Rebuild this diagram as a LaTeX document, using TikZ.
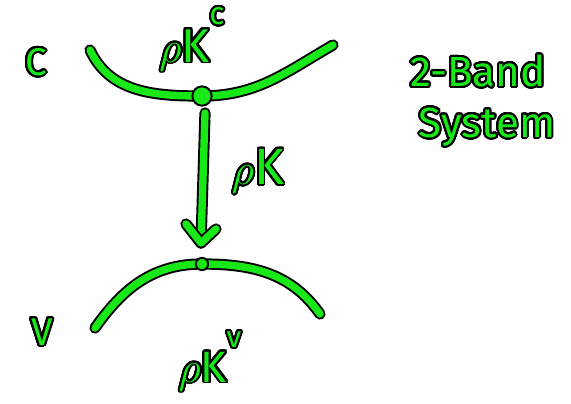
\documentclass[tikz,border=0pt]{standalone}
\usepackage{fontspec}
\setmainfont{Fira Sans}
\usepackage{contour}
\contourlength{1.1pt}
\contournumber{32}
\definecolor{pen}{RGB}{24,232,24}
\newcommand{\ink}[1]{\contour{black}{\textcolor{pen}{#1}}}

\tikzset{
  stroke/.style={line width=1.1pt, draw=black, double=pen, double distance=4.2pt,
    line cap=round, line join=round},
  blob/.style={circle, fill=pen, draw=black, line width=1.1pt, inner sep=0pt},
  lbl/.style={inner sep=0pt, font=\bfseries},
}

\begin{document}
\begin{tikzpicture}[x=0.02cm, y=-0.02cm]
	\useasboundingbox (0,0) rectangle (571,403);
	% band edges:
	\coordinate (cmin) at (202,96);
	\coordinate (vmax) at (202,264);
	\coordinate (cl) at (90,50);
	\coordinate (cr) at (333,45);
	\coordinate (vl) at (95,328);
	\coordinate (vr) at (320,314);
	\draw[stroke] (cl) to[out=-65, in=180] (cmin) to[out=0, in=-150] (cr);
	\draw[stroke] (vl) to[out=55, in=180] (vmax) to[out=0, in=125] (vr);
	\node[blob, minimum size=11pt] (cdot) at (cmin){};
	\node[blob, minimum size=7pt] (vdot) at (vmax){};
	% transition arrow:
	\coordinate (top) at (205,113);
	\coordinate (tip) at (201,243);
	\coordinate (barbl) at (186,224);
	\coordinate (barbr) at (216,229);
	\draw[stroke] (top) -- (tip);
	\draw[stroke] (barbl) -- (tip) -- (barbr);
	% labels:
	\node[lbl, font=\fontsize{22}{24}\selectfont] (cband) at (36,63){\ink{C}};
	\node[lbl, font=\fontsize{22}{24}\selectfont] (vband) at (42,333){\ink{V}};
	\node[lbl, font=\fontsize{27}{30}\selectfont] (rhoc) at (192,40){\ink{$\rho$K\raisebox{1.5ex}{\fontsize{18}{20}\selectfont c}}};
	\node[lbl, font=\fontsize{29}{32}\selectfont] (rho) at (258,172){\ink{$\rho$K}};
	\node[lbl, font=\fontsize{25}{28}\selectfont] (rhov) at (210,362){\ink{$\rho$K\raisebox{1.5ex}{\fontsize{17}{20}\selectfont v}}};
	\node[lbl, font=\fontsize{24}{28}\selectfont] (title1) at (478,72){\ink{2-Band}};
	\node[lbl, font=\fontsize{24}{28}\selectfont] (title2) at (487,128){\ink{System}};
\end{tikzpicture}
\end{document}
